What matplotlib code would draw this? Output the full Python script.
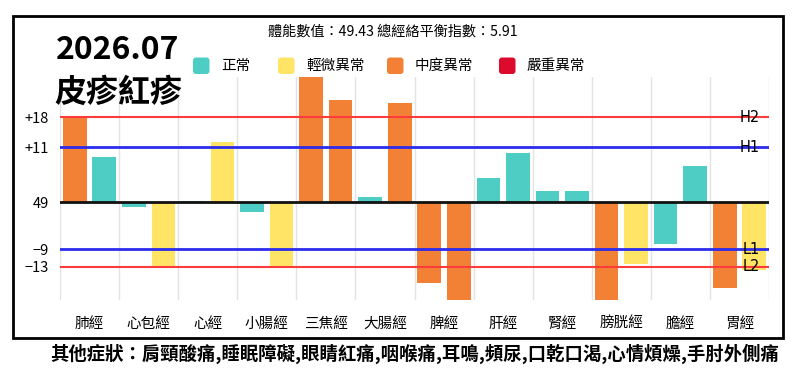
import numpy as np
import matplotlib
matplotlib.use("Agg")
import matplotlib.pyplot as plt
from matplotlib.patches import FancyBboxPatch, Rectangle

plt.rcParams['font.family'] = ['Noto Sans CJK TC', 'DejaVu Sans']

# 經絡名稱
meridians = ['肺經', '心包經', '心經', '小腸經', '三焦經', '大腸經',
             '脾經', '肝經', '腎經', '膀胱經', '膽經', '胃經']
# 每條經絡兩根柱子（左/右），單位：與基準線的偏差
left_vals = [17.0, -1.0, 0.2, -2.0, 27.0, 1.0, -16.1, 4.9, 2.3, -21.0, -8.3, -17.2]
right_vals = [9.1, -12.7, 12.1, -12.7, 20.5, 19.8, -21.0, 9.8, 2.3, -12.3, 7.3, -13.6]
# 0=正常 1=輕微異常 2=中度異常 3=嚴重異常
left_level = [2, 0, 0, 0, 2, 0, 2, 0, 0, 2, 0, 2]
right_level = [0, 1, 1, 1, 2, 2, 2, 0, 0, 1, 0, 1]

level_names = ['正常', '輕微異常', '中度異常', '嚴重異常']
level_colors = ['#4ECDC4', '#FFE466', '#F28035', '#DC0A2D']

# 參考線
ref_pos = [17.0, 11.06, -9.34, -12.9]
ref_tick = ['+18', '+11', '−9', '−13']
ref_name = ['H2', 'H1', 'L1', 'L2']
ref_color = ['#FF3B3B', '#2B2BEE', '#2B2BEE', '#FF3B3B']
ref_lw = [1.5, 2.0, 2.0, 1.5]
base_label = '49'

title1 = '2026.07'
title2 = '皮疹紅疹'
info = '體能數值：49.43 總經絡平衡指數：5.91'
symptoms = '其他症狀：肩頸酸痛,睡眠障礙,眼睛紅痛,咽喉痛,耳鳴,頻尿,口乾口渴,心情煩燥,手肘外側痛'

W, H = 800, 373
fig = plt.figure(figsize=(W / 100, H / 100), dpi=100)

ax = fig.add_axes([60 / W, 1 - 300 / H, 709 / W, 223 / H])
ax.set_facecolor('none')
x = np.arange(len(meridians))
ax.bar(x + 0.25, left_vals, width=0.4, color=[level_colors[i] for i in left_level], zorder=2)
ax.bar(x + 0.75, right_vals, width=0.4, color=[level_colors[i] for i in right_level], zorder=2)
ax.set_xlim(0, len(meridians))
ax.set_ylim(-19.5, 25.06)

for gx in range(len(meridians) + 1):
    ax.axvline(gx, color='#E3E3E3', lw=1, zorder=0)

for pos, col, lw, name in zip(ref_pos, ref_color, ref_lw, ref_name):
    ax.axhline(pos, color=col, lw=lw, zorder=3)
    ax.text(0.987, pos, name, transform=ax.get_yaxis_transform(), ha='right', va='center',
            fontsize=10.5, family=['DejaVu Sans'], zorder=4)
ax.axhline(0, color='#111111', lw=2, zorder=3)

ax.set_yticks(ref_pos[:2] + [0] + ref_pos[2:])
ax.set_yticklabels(ref_tick[:2] + [base_label] + ref_tick[2:], fontsize=10.5)
ax.set_xticks(x + 0.5)
ax.set_xticklabels(meridians, fontsize=10.5)
ax.tick_params(length=0, pad=8)
ax.tick_params(axis='x', pad=12)
for s in ax.spines.values():
    s.set_visible(False)

# 以像素座標畫外框、標題與圖例
bg = fig.add_axes([0, 0, 1, 1], zorder=5)
bg.set_xlim(0, W)
bg.set_ylim(H, 0)
bg.axis('off')
bg.add_patch(Rectangle((13, 16), 770, 322, fill=False, ec='black', lw=2))

bg.text(56, 50, title1, fontsize=23, fontweight='bold', ha='left', va='center')
bg.text(54, 93, title2, fontsize=23, fontweight='bold', ha='left', va='center')
bg.text(393, 32, info, fontsize=10.2, ha='center', va='center')

leg_x = [193, 278, 387, 499]
for lx, name, col in zip(leg_x, level_names, level_colors):
    bg.add_patch(FancyBboxPatch((lx, 57.5), 16.5, 16.5, boxstyle='round,pad=0,rounding_size=3',
                                fc=col, ec='none'))
    bg.text(lx + 28, 66, name, fontsize=10.5, ha='left', va='center')

bg.text(415, 354, symptoms, fontsize=13.2, fontweight='bold', ha='center', va='center')

fig.savefig('out.png', dpi=100)
